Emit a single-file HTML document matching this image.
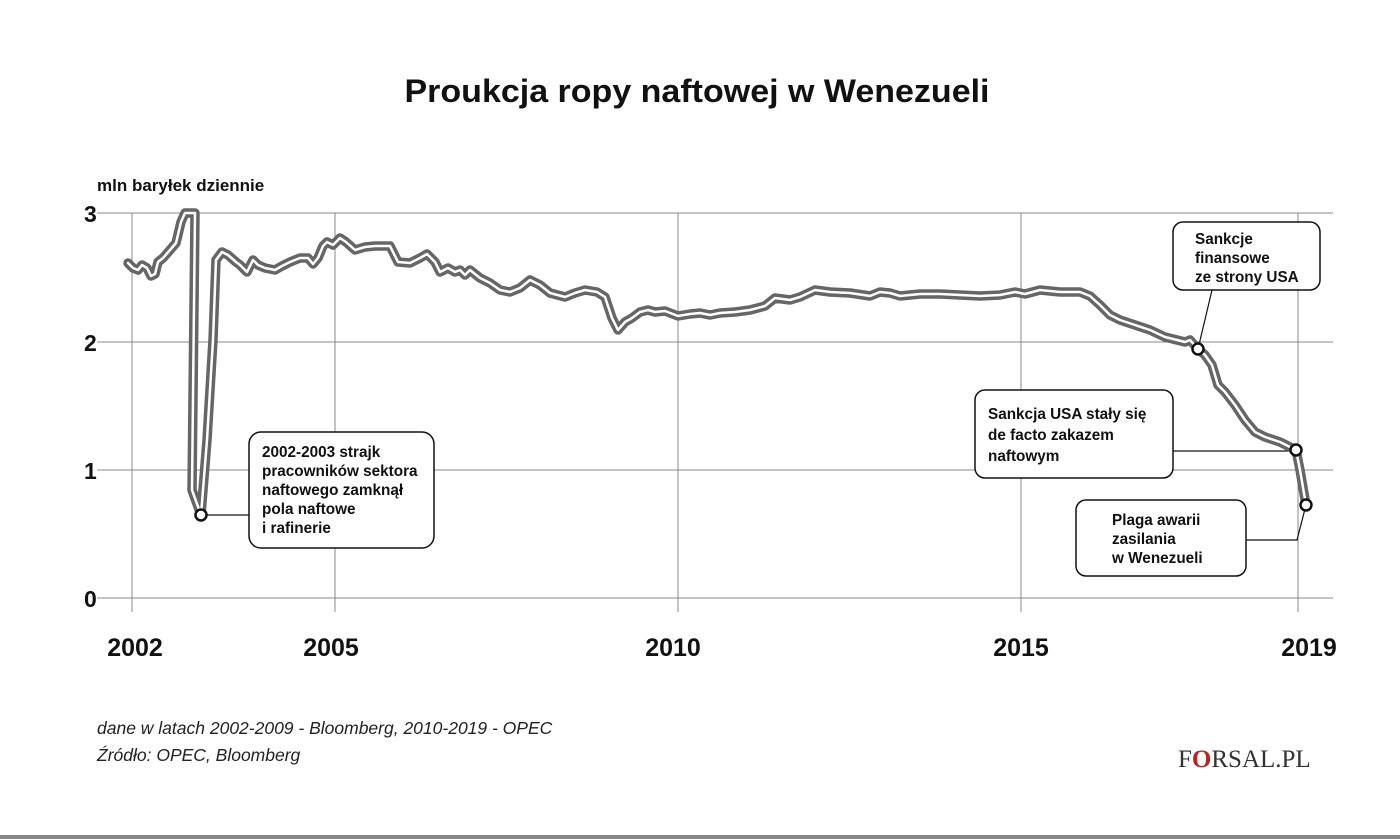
<!DOCTYPE html>
<html><head><meta charset="utf-8"><style>
html,body{margin:0;padding:0;background:#fff;}
body{width:1400px;height:839px;overflow:hidden;position:relative;font-family:"Liberation Sans",sans-serif;}
</style></head><body>
<svg width="1400" height="839" viewBox="0 0 1400 839" xmlns="http://www.w3.org/2000/svg" style="position:absolute;left:0;top:0">
<defs>
<polyline id="p" points="128,263 133,268 138,270 142,265 147,268 151,276 155,274 158,262 163,258 170,250 176,243 181,222 185,213 195,213 192,490 201,515 207,440 213,340 216,260 222,252 228,255 236,262 240,265 247,272 253,260 258,265 265,268 275,270 282,266 290,262 300,258 308,258 313,264 318,258 323,246 327,242 333,245 340,238 346,242 355,250 365,247 375,246 390,246 398,262 410,263 420,258 427,254 435,262 440,272 448,268 455,272 460,270 465,275 470,270 480,278 490,283 500,290 510,292 520,288 530,280 540,285 550,293 565,297 575,293 585,290 597,292 605,297 612,318 618,330 625,322 632,318 640,312 648,310 655,312 665,311 678,316 690,314 700,313 710,315 720,313 735,312 750,310 765,306 775,298 790,300 800,297 815,290 830,292 850,293 870,296 880,292 890,293 900,296 920,294 940,294 960,295 980,296 1000,295 1015,292 1025,294 1040,290 1060,292 1080,292 1090,296 1100,305 1110,315 1120,320 1135,325 1150,330 1165,337 1185,342 1190,340 1198,349 1205,355 1212,365 1218,385 1225,392 1235,405 1245,420 1255,432 1265,437 1280,442 1296,450 1300,470 1306,505"/>
</defs>
<text x="697" y="102" text-anchor="middle" font-family="Liberation Sans" font-weight="bold" font-size="32" fill="#111" textLength="585" lengthAdjust="spacingAndGlyphs">Proukcja ropy naftowej w Wenezueli</text>
<text x="97" y="191" font-family="Liberation Sans" font-weight="bold" font-size="17" fill="#111">mln baryłek dziennie</text>
<g stroke="#888" stroke-width="1">
<line x1="97" y1="213" x2="1333" y2="213"/>
<line x1="97" y1="342" x2="1333" y2="342"/>
<line x1="97" y1="470" x2="1333" y2="470"/>
<line x1="97" y1="598" x2="1333" y2="598"/>
<line x1="132" y1="213" x2="132" y2="612"/>
<line x1="335" y1="213" x2="335" y2="612"/>
<line x1="678" y1="213" x2="678" y2="612"/>
<line x1="1021" y1="213" x2="1021" y2="612"/>
<line x1="1298" y1="213" x2="1298" y2="612"/>
</g>
<g font-family="Liberation Sans" font-weight="bold" font-size="23" fill="#111">
<text x="84" y="222">3</text><text x="84" y="351">2</text><text x="84" y="479">1</text><text x="84" y="607">0</text>
</g>
<g font-family="Liberation Sans" font-weight="bold" font-size="25" fill="#111" text-anchor="middle">
<text x="135" y="656">2002</text><text x="331" y="656">2005</text><text x="673" y="656">2010</text><text x="1021" y="656">2015</text><text x="1309" y="656">2019</text>
</g>
<g fill="none" stroke="#111" stroke-width="1.2">
<line x1="205" y1="515" x2="249" y2="515"/>
<line x1="1198" y1="349" x2="1212" y2="290"/>
<line x1="1173" y1="451" x2="1296" y2="451"/>
<polyline points="1246,540 1297,540 1306,505"/>
</g>
<g fill="none" stroke="#666" stroke-width="9.5" stroke-linejoin="round" stroke-linecap="round"><use href="#p"/></g>
<g fill="none" stroke="#fff" stroke-width="2.5" stroke-linejoin="round" stroke-linecap="round"><use href="#p"/></g>
<g fill="#fff" stroke="#111" stroke-width="2.5">
<circle cx="201" cy="515" r="5.5"/><circle cx="1198" cy="349" r="5.5"/><circle cx="1296" cy="450" r="5.5"/><circle cx="1306" cy="505" r="5.5"/>
</g>
<g fill="#fff" stroke="#111" stroke-width="1.5">
<rect x="249" y="432" width="185" height="116" rx="12"/>
<rect x="1173" y="222" width="147" height="68" rx="10"/>
<rect x="975" y="390" width="198" height="88" rx="10"/>
<rect x="1076" y="500" width="170" height="76" rx="10"/>
</g>
<g font-family="Liberation Sans" font-weight="bold" font-size="15.3" fill="#111">
<text x="262" y="457">2002-2003 strajk</text>
<text x="262" y="476">pracowników sektora</text>
<text x="262" y="495">naftowego zamknął</text>
<text x="262" y="514">pola naftowe</text>
<text x="262" y="533">i rafinerie</text>
<text x="1195" y="244">Sankcje</text>
<text x="1195" y="263">finansowe</text>
<text x="1195" y="282">ze strony USA</text>
<text x="988" y="419">Sankcja USA stały się</text>
<text x="988" y="440">de facto zakazem</text>
<text x="988" y="461">naftowym</text>
<text x="1112" y="525">Plaga awarii</text>
<text x="1112" y="544">zasilania</text>
<text x="1112" y="563">w Wenezueli</text>
</g>
<g font-family="Liberation Sans" font-style="italic" font-size="17.5" fill="#222">
<text x="97" y="734">dane w latach 2002-2009 - Bloomberg, 2010-2019 - OPEC</text>
<text x="97" y="761">Źródło: OPEC, Bloomberg</text>
</g>
<text x="1178" y="767" font-family="Liberation Serif" font-size="25" fill="#333">F<tspan fill="#b22" font-weight="bold">O</tspan>RSAL.PL</text>
<rect x="0" y="835" width="1400" height="4" fill="#888"/>
</svg>
</body></html>
